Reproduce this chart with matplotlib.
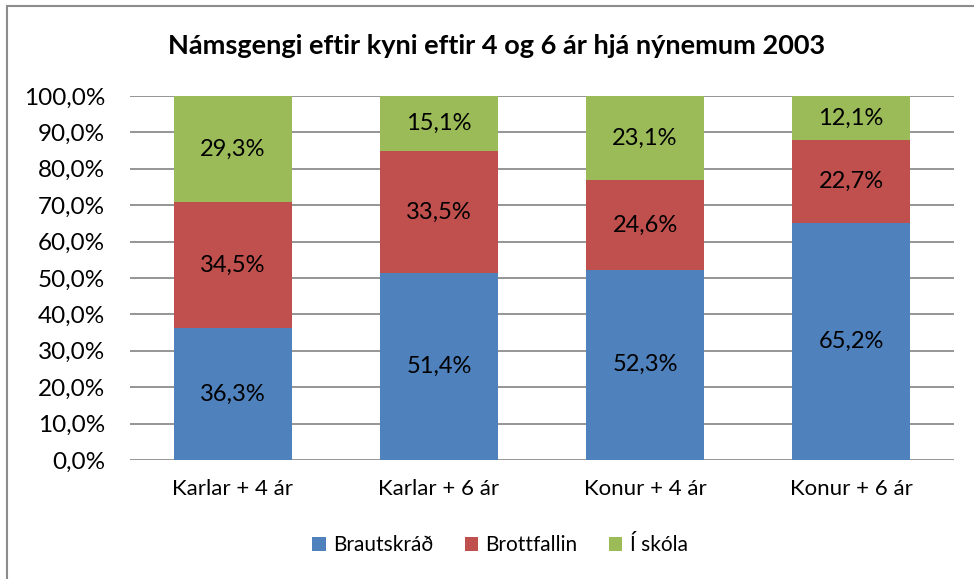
import matplotlib
matplotlib.use("Agg")
import matplotlib.pyplot as plt
from matplotlib.patches import Rectangle
import numpy as np

categories = ["Karlar + 4 ár", "Karlar + 6 ár", "Konur + 4 ár", "Konur + 6 ár"]
series_names = ["Brautskráð", "Brottfallin", "Í skóla"]
brautskrad = [36.3, 51.4, 52.3, 65.2]
brottfallin = [34.5, 33.5, 24.6, 22.7]
i_skola = [29.3, 15.1, 23.1, 12.1]
colors = ["#4F81BD", "#C0504D", "#9BBB59"]
yticks = list(range(0, 101, 10))

plt.rcParams['font.family'] = ['Lato', 'DejaVu Sans']

W, H = 974, 579
fig = plt.figure(figsize=(W / 100, H / 100), dpi=100)
ax = fig.add_axes([130 / W, 1 - 460 / H, 824 / W, 364 / H])

x = np.arange(len(categories))
bottom = np.zeros(len(categories))
for name, vals, c in zip(series_names, [brautskrad, brottfallin, i_skola], colors):
    vals = np.array(vals)
    ax.bar(x, vals, width=0.57, bottom=bottom, color=c, label=name, zorder=3)
    for xi, b, v in zip(x, bottom, vals):
        ax.text(xi, b + v / 2, f"{v:.1f}%".replace(".", ","), ha="center", va="center",
                fontsize=17, color="black", zorder=4)
    bottom = bottom + vals

ax.set_xlim(-0.5, len(categories) - 0.5)
ax.set_ylim(0, 100)
ax.set_yticks(yticks)
ax.set_yticklabels([f"{t:.1f}%".replace(".", ",") for t in yticks], fontsize=17.5)
ax.set_xticks(x)
ax.set_xticklabels(categories, fontsize=16)
ax.tick_params(axis="both", length=0)
ax.tick_params(axis="y", pad=18)
ax.tick_params(axis="x", pad=14)
ax.yaxis.grid(True, color="#8C8C8C", linewidth=1.3, zorder=0)
for s in ax.spines.values():
    s.set_visible(False)

fig.text(497 / W, 1 - 46 / H, "Námsgengi eftir kyni eftir 4 og 6 ár hjá nýnemum 2003",
         ha="center", va="center", fontsize=19.5, fontweight="bold")

fig.legend(loc="center", bbox_to_anchor=(500 / W, 1 - 545 / H), ncol=3, frameon=False,
           fontsize=15, handlelength=0.65, handleheight=0.65, handletextpad=0.35,
           columnspacing=1.5)

fig.patches.append(Rectangle((7 / W, -0.1), 1.2, 1 - 6 / H + 0.1, transform=fig.transFigure,
                             fill=False, edgecolor="#8C8C8C", linewidth=1.5))

fig.savefig("out.png", dpi=100)
